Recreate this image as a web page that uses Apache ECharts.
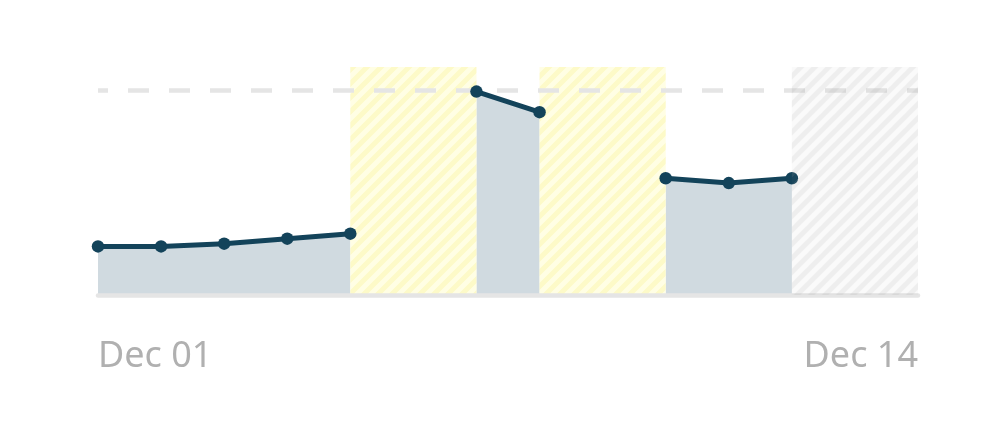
<!DOCTYPE html>
<html>
<head>
<meta charset="utf-8">
<script src="https://cdn.jsdelivr.net/npm/echarts@6/dist/echarts.min.js"></script>
<style>
html,body{margin:0;padding:0;background:#fff;}
#chart{width:1002px;height:427px;}
</style>
</head>
<body>
<div id="chart"></div>
<script>
// ---- data ----
var categories = ['Dec 01','Dec 02','Dec 03','Dec 04','Dec 05','Dec 06','Dec 07','Dec 08','Dec 09','Dec 10','Dec 11','Dec 12','Dec 13','Dec 14'];
var values = [21.3, 21.3, 22.5, 24.7, 26.9, null, 89.2, 80.2, null, 51.2, 49.1, 51.2, null, null];
var goalValue = 90;
var highlightRanges = [['Dec 05','Dec 07'], ['Dec 08','Dec 10']];
var futureRanges = [['Dec 12','Dec 14']];
var tickLabels = ['Dec 01','Dec 14'];

function stripePattern(bg, stripe) {
  var s = 14;
  var c = document.createElement('canvas');
  c.width = s; c.height = s;
  var ctx = c.getContext('2d');
  ctx.fillStyle = bg;
  ctx.fillRect(0, 0, s, s);
  ctx.strokeStyle = stripe;
  ctx.lineWidth = 5;
  ctx.lineCap = 'square';
  ctx.beginPath();
  ctx.moveTo(-s, 2*s); ctx.lineTo(2*s, -s);
  ctx.moveTo(-s, s); ctx.lineTo(s, -s);
  ctx.moveTo(0, 2*s); ctx.lineTo(2*s, 0);
  ctx.stroke();
  return { image: c, repeat: 'repeat' };
}

var yellowPat = stripePattern('#fffee4', '#fdfac8');
var grayPat = stripePattern('rgba(160,160,160,0.05)', 'rgba(160,160,160,0.13)');

var chart = echarts.init(document.getElementById('chart'), null, {renderer: 'canvas'});
var option = {
  animation: false,
  backgroundColor: '#ffffff',
  grid: { left: 98, right: 84, top: 67, bottom: 132, containLabel: false },
  xAxis: {
    type: 'category',
    data: categories,
    boundaryGap: false,
    z: 3,
    axisLine: { show: true, lineStyle: { color: '#e5e5e5', width: 4.5 } },
    axisTick: { show: false },
    splitLine: { show: false },
    axisLabel: {
      show: true,
      interval: function (i, v) { return tickLabels.indexOf(v) >= 0; },
      alignMinLabel: 'left',
      alignMaxLabel: 'right',
      margin: 44,
      color: '#b0b0b0',
      fontSize: 36,
      fontFamily: 'Noto Sans'
    }
  },
  yAxis: { type: 'value', min: 0, max: 100, show: false },
  series: [
    {
      type: 'line', z: 1, data: values, symbol: 'none',
      lineStyle: { width: 0, opacity: 0 },
      areaStyle: { color: '#d0dae0', opacity: 1 },
      connectNulls: false, silent: true
    },
    {
      type: 'line', z: 2, data: [], symbol: 'none', silent: true,
      markArea: {
        z: 2,
        silent: true,
        itemStyle: { color: yellowPat },
        data: highlightRanges.map(function (r) { return [{ xAxis: r[0] }, { xAxis: r[1] }]; })
      },
      markLine: {
        z: 2,
        silent: true, symbol: 'none', label: { show: false },
        lineStyle: { color: '#e5e5e5', width: 4.5, type: [21, 20], dashOffset: 11 },
        data: [{ yAxis: goalValue }]
      }
    },
    {
      type: 'line', z: 4, data: values,
      symbol: 'circle', symbolSize: 12.5, showAllSymbol: true,
      itemStyle: { color: '#13435a' },
      lineStyle: { color: '#13435a', width: 5 },
      connectNulls: false, silent: true
    },
    {
      type: 'line', z: 5, data: [], symbol: 'none', silent: true,
      markArea: {
        z: 6,
        silent: true,
        itemStyle: { color: grayPat },
        data: futureRanges.map(function (r) { return [{ xAxis: r[0] }, { xAxis: r[1] }]; })
      }
    }
  ]
};
chart.setOption(option);
</script>
</body>
</html>
